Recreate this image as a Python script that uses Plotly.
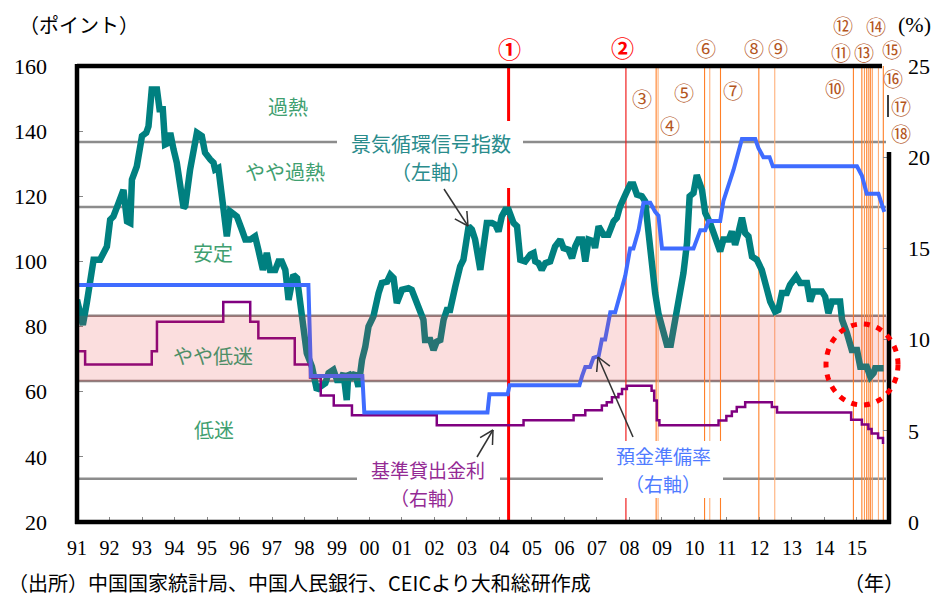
import math
import plotly.graph_objects as go

# ---------------- data ----------------
teal_x = [1991.00, 1991.18, 1991.30, 1991.51, 1991.71, 1991.82, 1991.92, 1992.02, 1992.12, 1992.28,
          1992.43, 1992.54, 1992.64, 1992.69, 1992.84, 1993.00, 1993.13, 1993.20, 1993.30, 1993.46,
          1993.54, 1993.64, 1993.71, 1993.82, 1993.87, 1993.97, 1994.07, 1994.28, 1994.33, 1994.48,
          1994.69, 1994.84, 1994.94, 1995.10, 1995.20, 1995.25, 1995.35, 1995.51, 1995.61, 1995.71,
          1995.92, 1996.07, 1996.18, 1996.33, 1996.48, 1996.58, 1996.72, 1996.84, 1996.94, 1997.10,
          1997.20, 1997.30, 1997.41, 1997.51, 1997.66, 1997.77, 1997.87, 1997.97, 1998.07, 1998.23,
          1998.33, 1998.38, 1998.48, 1998.64, 1998.74, 1998.89, 1999.00, 1999.10, 1999.20, 1999.30,
          1999.35, 1999.46, 1999.56, 1999.66, 1999.77, 1999.87, 1999.97, 2000.12, 2000.28, 2000.38,
          2000.54, 2000.64, 2000.74, 2000.84, 2001.00, 2001.20, 2001.30, 2001.41, 2001.56, 2001.66,
          2001.71, 2001.87, 2001.97, 2002.07, 2002.18, 2002.28, 2002.38, 2002.48, 2002.64, 2002.79,
          2002.89, 2003.00, 2003.05, 2003.15, 2003.25, 2003.41, 2003.51, 2003.61, 2003.77, 2003.87,
          2003.97, 2004.07, 2004.18, 2004.28, 2004.43, 2004.54, 2004.64, 2004.79, 2004.95, 2005.05,
          2005.10, 2005.20, 2005.30, 2005.41, 2005.56, 2005.71, 2005.87, 2005.97, 2006.12, 2006.23,
          2006.33, 2006.43, 2006.54, 2006.64, 2006.74, 2006.89, 2006.94, 2007.05, 2007.20, 2007.35,
          2007.51, 2007.61, 2007.71, 2007.82, 2007.92, 2008.02, 2008.12, 2008.23, 2008.38, 2008.48,
          2008.58, 2008.69, 2008.79, 2008.89, 2009.05, 2009.15, 2009.27, 2009.41, 2009.56, 2009.66,
          2009.77, 2009.85, 2009.97, 2010.07, 2010.23, 2010.33, 2010.48, 2010.58, 2010.69, 2010.79,
          2010.89, 2011.05, 2011.15, 2011.25, 2011.35, 2011.46, 2011.56, 2011.66, 2011.77, 2011.92,
          2012.07, 2012.18, 2012.33, 2012.48, 2012.58, 2012.69, 2012.84, 2012.94, 2013.13, 2013.25,
          2013.46, 2013.56, 2013.66, 2013.92, 2014.02, 2014.12, 2014.23, 2014.48, 2014.54, 2014.69,
          2014.84, 2015.00, 2015.10, 2015.30, 2015.41, 2015.51, 2015.56, 2015.82]
teal_y = [88.2, 80.5, 87.2, 100.5, 100.5, 103.0, 104.6, 112.8, 113.8, 118.0,
          122.0, 112.3, 111.8, 125.1, 129.2, 138.5, 139.5, 141.5, 152.8, 152.8,
          146.7, 146.7, 135.9, 136.4, 139.5, 134.4, 130.3, 116.4, 117.0, 128.2,
          139.5, 138.5, 133.4, 131.3, 130.3, 128.2, 128.7, 115.9, 107.7, 115.4,
          113.8, 109.8, 106.7, 106.7, 107.7, 103.6, 97.4, 102.6, 97.4, 97.4,
          100.0, 100.0, 97.4, 88.2, 95.9, 94.9, 88.2, 80.0, 71.8, 67.7,
          63.6, 60.5, 61.5, 62.6, 65.7, 66.7, 63.6, 63.6, 65.7, 57.4,
          65.7, 64.6, 65.7, 61.5, 69.8, 73.8, 80.0, 83.1, 90.3, 93.4,
          93.8, 95.9, 94.9, 87.2, 91.3, 91.8, 91.3, 88.2, 85.1, 82.1,
          75.9, 75.9, 72.8, 75.4, 75.9, 82.1, 85.1, 85.1, 92.3, 98.5,
          100.5, 106.7, 110.8, 109.8, 106.7, 97.4, 106.7, 111.8, 111.8, 111.3,
          109.2, 113.8, 115.9, 115.9, 111.8, 110.8, 100.5, 100.0, 102.1, 102.6,
          100.0, 99.5, 97.4, 99.5, 100.0, 104.6, 106.7, 104.1, 103.6, 101.0,
          104.6, 106.7, 106.7, 100.0, 106.7, 106.2, 104.1, 110.8, 108.2, 108.2,
          112.3, 113.4, 116.9, 120.0, 121.5, 123.6, 123.6, 120.5, 120.0, 118.5,
          108.7, 100.5, 90.3, 84.1, 76.9, 74.4, 74.4, 82.1, 92.3, 96.4,
          105.7, 120.0, 121.0, 126.5, 122.0, 114.9, 111.8, 108.7, 105.7, 103.1,
          106.7, 106.7, 109.2, 105.1, 108.7, 113.4, 108.7, 107.7, 101.5, 100.5,
          97.4, 93.4, 87.7, 84.6, 85.1, 90.3, 90.3, 92.8, 95.4, 93.4,
          93.4, 87.7, 90.8, 90.8, 89.2, 84.1, 87.7, 87.7, 82.1, 78.0,
          72.8, 72.8, 67.7, 67.7, 64.6, 65.7, 67.2, 67.2]

blue_x = [1991.00, 1998.12, 1998.20, 1999.78, 1999.84, 2003.63, 2003.69, 2004.25, 2004.31, 2006.46,
          2006.54, 2006.64, 2006.79, 2006.89, 2007.05, 2007.15, 2007.25, 2007.41, 2007.56, 2007.71,
          2007.87, 2008.02, 2008.12, 2008.28, 2008.43, 2008.64, 2008.79, 2008.89, 2009.00, 2009.97,
          2010.18, 2010.33, 2010.43, 2010.79, 2010.89, 2011.20, 2011.46, 2011.87, 2011.97, 2012.12,
          2012.31, 2012.41, 2015.00, 2015.15, 2015.30, 2015.66, 2015.84]
blue_y = [13.0, 13.0, 8.0, 8.0, 6.0, 6.0, 7.0, 7.0, 7.5, 7.5,
          8.0, 8.5, 8.5, 9.0, 9.1, 10.0, 10.0, 11.5, 11.5, 12.5,
          13.5, 15.0, 15.0, 16.0, 17.5, 17.5, 17.0, 16.8, 15.0, 15.0,
          16.0, 16.0, 16.5, 16.5, 17.6, 19.3, 21.0, 21.0, 20.5, 20.0,
          20.0, 19.5, 19.5, 19.0, 18.0, 18.0, 17.0]

purple_x = [1991.00, 1991.25, 1993.30, 1993.46, 1995.50, 1996.33, 1996.58, 1997.70, 1998.17, 1998.50,
            1998.90, 1999.46, 2002.07, 2004.74, 2006.28, 2006.64, 2007.15, 2007.30, 2007.46, 2007.66,
            2007.77, 2007.92, 2008.68, 2008.76, 2008.84, 2008.92, 2010.74, 2010.98, 2011.15, 2011.30,
            2011.56, 2012.38, 2012.54, 2014.82, 2015.15, 2015.35, 2015.45, 2015.65, 2015.80, 2015.84]
purple_y = [9.36, 8.64, 9.36, 10.98, 12.06, 10.98, 10.08, 8.64, 7.92, 6.93,
            6.39, 5.85, 5.31, 5.58, 5.85, 6.12, 6.39, 6.57, 6.84, 7.02,
            7.29, 7.47, 7.20, 6.66, 5.58, 5.31, 5.56, 5.81, 6.06, 6.31,
            6.56, 6.31, 6.00, 5.60, 5.35, 5.10, 4.85, 4.60, 4.35, 4.35]

zone_levels = [136.7, 116.7, 33.3]
band_levels = [63.3, 83.3]

event_labels = ["①", "②", "③", "④", "⑤", "⑥", "⑦", "⑧", "⑨",
                "⑩", "⑪", "⑫", "⑬", "⑭", "⑮", "⑯", "⑰", "⑱"]
event_x = [2004.28, 2007.89, 2008.82, 2008.88, 2010.31, 2010.47, 2010.80, 2011.98, 2012.47,
           2014.89, 2015.15, 2015.23, 2015.30, 2015.36, 2015.41, 2015.47, 2015.66, 2015.81]

x_tick_vals = list(range(1991, 2016))
x_tick_text = ["91", "92", "93", "94", "95", "96", "97", "98", "99", "00", "01", "02", "03",
               "04", "05", "06", "07", "08", "09", "10", "11", "12", "13", "14", "15"]
y_left_ticks = [20, 40, 60, 80, 100, 120, 140, 160]
y_right_ticks = [0, 5, 10, 15, 20, 25]

# ---------------- geometry helpers (pixel -> paper) ----------------
W, H = 940, 596
PL, PR, PT, PB = 77, 889, 66, 522      # plot area in pixels
ML, MR = 45, 915                       # paper area (left/right) in pixels


def fx(px):
    return (px - ML) / (MR - ML)


def fy(py):
    return (PB - py) / (PB - PT)


JP = "Noto Sans CJK JP"
SERIF = "Liberation Serif"

fig = go.Figure()
fig.add_trace(go.Scatter(x=teal_x, y=teal_y, mode="lines", xaxis="x", yaxis="y",
                         line=dict(color="#008080", width=6.5), hoverinfo="skip", showlegend=False))
fig.add_trace(go.Scatter(x=purple_x, y=purple_y, mode="lines", xaxis="x", yaxis="y2",
                         line=dict(color="#800080", width=2.5, shape="hv"), hoverinfo="skip", showlegend=False))
fig.add_trace(go.Scatter(x=blue_x, y=blue_y, mode="lines", xaxis="x", yaxis="y2",
                         line=dict(color="#3F6CFF", width=4), hoverinfo="skip", showlegend=False))

shapes = []
for lv in zone_levels:
    shapes.append(dict(type="line", xref="paper", yref="y", x0=fx(PL), x1=fx(886), y0=lv, y1=lv,
                       line=dict(color="#8C8C8C", width=2.5), layer="below"))
for lv in band_levels:
    shapes.append(dict(type="line", xref="paper", yref="y", x0=fx(PL), x1=fx(886), y0=lv, y1=lv,
                       line=dict(color="#8E8080", width=2.5), layer="below"))
event_colors = ["#FF0000", "#F02020", "#FF7F27", "#FFB07A", "#FF7F27", "#FFB07A", "#FF7F27", "#FF7F27",
                "#FFB07A", "#FF7F27", "#FF7F27", "#FF9A55", "#FF7F27", "#FF9A55", "#FF7F27", "#FF9A55",
                "#FFB07A", "#FF7F27"]
event_widths = [3, 1.2] + [1.1] * 16
for ex, ec, ew in zip(event_x, event_colors, event_widths):
    shapes.append(dict(type="line", xref="x", yref="paper", x0=ex, x1=ex, y0=0, y1=1,
                       line=dict(color=ec, width=ew), layer="below"))
shapes.append(dict(type="rect", xref="paper", yref="y", x0=fx(PL), x1=fx(887), y0=band_levels[0], y1=band_levels[1],
                   fillcolor="rgba(230,60,60,0.17)", line=dict(width=0), layer="above"))
for (x0, x1, y0, y1) in [(337, 523, 121, 188), (357, 500, 452, 511), (603, 723, 441, 498)]:
    shapes.append(dict(type="rect", xref="paper", yref="paper", x0=fx(x0), x1=fx(x1), y0=fy(y1), y1=fy(y0),
                       fillcolor="white", line=dict(width=0), layer="above"))
BW = 4.5
shapes += [
    dict(type="line", xref="paper", yref="paper", x0=fx(PL), x1=fx(PL), y0=fy(524), y1=fy(64), line=dict(color="black", width=BW)),
    dict(type="line", xref="paper", yref="paper", x0=fx(PL), x1=fx(882), y0=1, y1=1, line=dict(color="black", width=BW)),
    dict(type="line", xref="paper", yref="paper", x0=fx(75), x1=fx(891), y0=0, y1=0, line=dict(color="black", width=BW)),
    dict(type="line", xref="paper", yref="paper", x0=fx(889), x1=fx(889), y0=fy(524), y1=fy(152), line=dict(color="black", width=BW)),
    dict(type="line", xref="paper", yref="paper", x0=fx(888), x1=fx(888), y0=fy(117), y1=fy(95), line=dict(color="black", width=1.5)),
]
shapes.append(dict(type="circle", xref="paper", yref="paper", x0=fx(826), x1=fx(898), y0=fy(405), y1=fy(324),
                   line=dict(color="#FF0000", width=5, dash="6px,7px"), layer="above"))

# pointer arrows (open V heads) drawn as line shapes
for (tipx, tipy, tailx, taily) in [(468, 226, 444, 189), (598, 357, 633, 437), (493, 430, 477, 457)]:
    shapes.append(dict(type="line", xref="paper", yref="paper", x0=fx(tailx), y0=fy(taily), x1=fx(tipx), y1=fy(tipy),
                       line=dict(color="#333333", width=1.5), layer="above"))
    dx, dy = tailx - tipx, taily - tipy
    n = math.hypot(dx, dy)
    ux, uy = dx / n, dy / n
    for ang in (0.5, -0.5):
        hx = ux * math.cos(ang) - uy * math.sin(ang)
        hy = ux * math.sin(ang) + uy * math.cos(ang)
        shapes.append(dict(type="line", xref="paper", yref="paper", x0=fx(tipx), y0=fy(tipy),
                           x1=fx(tipx + 15 * hx), y1=fy(tipy + 15 * hy),
                           line=dict(color="#333333", width=1.5), layer="above"))

ann = []


def txt(s, cx, cy, size=21, color="black", family=JP, xanchor="center"):
    ann.append(dict(text=s, x=fx(cx), y=fy(cy), xref="paper", yref="paper", showarrow=False,
                    xanchor=xanchor, yanchor="middle", font=dict(family=family, size=size, color=color)))


ZC = "#3FA070"
txt("過熱", 288, 106, 20, ZC)
txt("やや過熱", 285, 172, 20, ZC)
txt("安定", 213, 252, 20, ZC)
txt("やや低迷", 213, 355, 20, "#4F8E68")
txt("低迷", 214, 429, 20, ZC)

txt("景気循環信号指数", 431, 143, 20, "#2A8C8C")
txt("（左軸）", 431, 172, 20, "#2A8C8C")
txt("基準貸出金利", 428, 469, 19, "#942A94")
txt("（右軸）", 428, 497, 19, "#942A94")
txt("預金準備率", 663, 455, 19, "#4F7BFF")
txt("（右軸）", 663, 483, 19, "#4F7BFF")

label_pos = [(509, 48), (622.7, 47), (641.7, 98), (670, 125), (684, 92.7), (706, 48.3), (732.7, 90),
             (754, 48.3), (778.3, 48.3), (835, 88.3), (841, 52), (843.3, 26), (864, 52.5),
             (876, 26.5), (891.5, 50), (893.3, 78.3), (900.7, 106.7), (900.7, 133.3)]
BR = "#B4561E"
for i, (lab, (lx, ly)) in enumerate(zip(event_labels, label_pos)):
    if i < 2:
        txt("<b>" + lab + "</b>", lx, ly, 23, "#FF0000")
    else:
        txt(lab, lx, ly, 20, BR)

txt("（ポイント）", 79, 24, 20)
txt("(%)", 914, 24, 22, family=SERIF)
txt("（出所）中国国家統計局、中国人民銀行、CEICより大和総研作成", 6, 582, 20, xanchor="left")
txt("（年）", 874, 582, 20)

axis_common = dict(showgrid=False, zeroline=False, showline=False, automargin=False)
fig.update_layout(
    width=W, height=H, autosize=False,
    margin=dict(l=ML, r=W - MR, t=PT, b=H - PB, pad=0, autoexpand=False),
    paper_bgcolor="white", plot_bgcolor="white",
    font=dict(family=SERIF, color="black"),
    showlegend=False,
    xaxis=dict(domain=[fx(PL), fx(PR)], range=[1991.0, 2015.985], tickvals=x_tick_vals, ticktext=x_tick_text,
               ticks="inside", ticklen=5, tickcolor="#888888", tickwidth=1, anchor="y",
               tickfont=dict(family=SERIF, size=20, color="black"), ticklabelstandoff=12, **axis_common),
    yaxis=dict(range=[20, 160], tickvals=y_left_ticks, ticks="inside", ticklen=6, tickcolor="#888888",
               showticklabels=False, anchor="x", **axis_common),
    yaxis2=dict(range=[0, 25], tickvals=y_right_ticks, overlaying="y", side="right", anchor="x",
                ticks="inside", ticklen=6, tickcolor="#888888", showticklabels=False, **axis_common),
    yaxis3=dict(range=[20, 160], tickvals=y_left_ticks, overlaying="y", side="left", anchor="free",
                position=fx(47), ticks="", tickfont=dict(family=SERIF, size=22, color="black"), **axis_common),
    yaxis4=dict(range=[0, 25], tickvals=y_right_ticks, overlaying="y", side="right", anchor="free",
                position=fx(907), ticks="", tickfont=dict(family=SERIF, size=22, color="black"), **axis_common),
    shapes=shapes, annotations=ann,
)
fig.add_trace(go.Scatter(x=[None], y=[None], yaxis="y3", showlegend=False, hoverinfo="skip"))
fig.add_trace(go.Scatter(x=[None], y=[None], yaxis="y4", showlegend=False, hoverinfo="skip"))

fig.write_html("out.html", config={"displayModeBar": False},
               post_script="document.body.style.margin='0px';")
